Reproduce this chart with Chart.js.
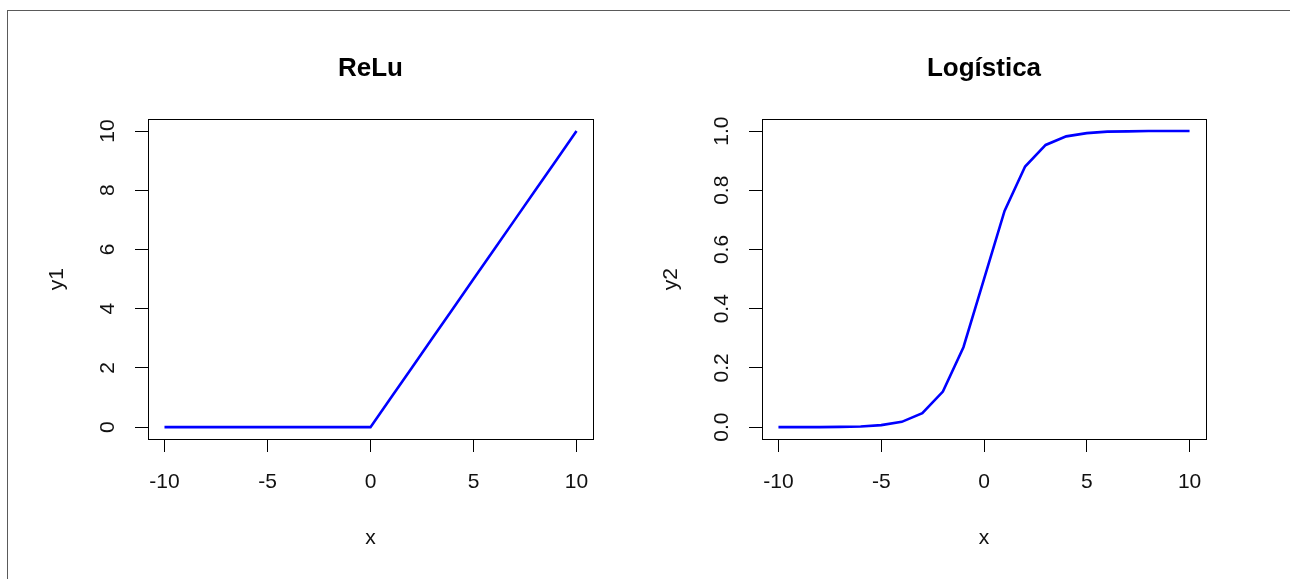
<!DOCTYPE html>
<html>
<head>
<meta charset="utf-8">
<script src="https://cdn.jsdelivr.net/npm/chart.js@4.4.1/dist/chart.umd.min.js"></script>
<style>
    html, body { margin: 0; padding: 0; background: #fff; }
    body { width: 1290px; height: 579px; position: relative; overflow: hidden; }
    .frame { position: absolute; left: 7px; top: 10px; right: 0; bottom: 0; border-top: 1px solid #5a5a5a; border-left: 1px solid #5a5a5a; }
    canvas { position: absolute; top: 0; }
    #reluChart { left: 0; }
    #logisticChart { left: 614px; }
</style>
</head>
<body>
<div class="frame"></div>
<canvas id="reluChart" width="620" height="579"></canvas>
<canvas id="logisticChart" width="676" height="579"></canvas>
<script>
// Data
const xValues = [-10, -9, -8, -7, -6, -5, -4, -3, -2, -1, 0, 1, 2, 3, 4, 5, 6, 7, 8, 9, 10];
const reluValues = [0, 0, 0, 0, 0, 0, 0, 0, 0, 0, 0, 1, 2, 3, 4, 5, 6, 7, 8, 9, 10];
const logisticValues = [0.0, 0.0, 0.0, 0.001, 0.002, 0.007, 0.018, 0.047, 0.12, 0.27, 0.5,
    0.73, 0.88, 0.953, 0.982, 0.993, 0.998, 0.999, 1.0, 1.0, 1.0];

// Tick labels
const xTicks = [-10, -5, 0, 5, 10];
const reluTicks = [0, 2, 4, 6, 8, 10];
const logisticTicks = [0, 0.2, 0.4, 0.6, 0.8, 1.0];

const FONT = "'Liberation Sans', Arial, sans-serif";

// draw the full box around the plot area (R bty="o")
const boxPlugin = {
    id: 'plotBox',
    afterDraw(chart) {
        const a = chart.chartArea;
        const ctx = chart.ctx;
        ctx.save();
        ctx.strokeStyle = '#000';
        ctx.lineWidth = 1;
        ctx.strokeRect(Math.round(a.left) + 0.5, Math.round(a.top) + 0.5,
            Math.round(a.right - a.left), Math.round(a.bottom - a.top));
        ctx.restore();
    }
};

function makeChart(canvasId, title, yLabel, yValues, yTicks, yMin, yMax, yFormat, yPad, rightPad) {
    const ctx = document.getElementById(canvasId);
    return new Chart(ctx, {
        type: 'line',
        data: {
            datasets: [{
                data: xValues.map((x, i) => ({ x: x, y: yValues[i] })),
                borderColor: '#0000ff',
                borderWidth: 2.6,
                pointRadius: 0,
                tension: 0,
                fill: false
            }]
        },
        options: {
            responsive: false,
            animation: false,
            layout: { padding: { left: 0, right: rightPad, top: 0, bottom: 0 } },
            plugins: {
                legend: { display: false },
                tooltip: { enabled: false },
                title: {
                    display: true,
                    text: title,
                    fullSize: false,
                    color: '#000',
                    font: { family: FONT, size: 26, weight: 'bold' },
                    padding: { top: 53, bottom: 35 }
                }
            },
            scales: {
                x: {
                    type: 'linear',
                    min: -10.8,
                    max: 10.8,
                    afterBuildTicks: scale => { scale.ticks = xTicks.map(v => ({ value: v })); },
                    afterFit: scale => { scale.height = 140; },
                    grid: { display: true, drawOnChartArea: false, drawTicks: true, tickLength: 13, color: '#000' },
                    border: { display: true, color: '#000' },
                    ticks: {
                        color: '#111',
                        font: { family: FONT, size: 21 },
                        padding: 18,
                        maxRotation: 0,
                        callback: v => String(v)
                    },
                    title: {
                        display: true,
                        text: 'x',
                        color: '#111',
                        font: { family: FONT, size: 21 },
                        padding: { top: 0, bottom: 28 }
                    }
                },
                y: {
                    type: 'linear',
                    min: yMin,
                    max: yMax,
                    afterBuildTicks: scale => { scale.ticks = yTicks.map(v => ({ value: v })); },
                    afterFit: scale => { scale.width = 148; },
                    grid: { display: true, drawOnChartArea: false, drawTicks: true, tickLength: 13, color: '#000' },
                    border: { display: true, color: '#000' },
                    ticks: {
                        color: '#111',
                        font: { family: FONT, size: 21 },
                        padding: yPad,
                        minRotation: 90,
                        maxRotation: 90,
                        crossAlign: 'center',
                        callback: yFormat
                    },
                    title: {
                        display: true,
                        text: yLabel,
                        color: '#111',
                        font: { family: FONT, size: 21 },
                        padding: { top: 45, bottom: 0 }
                    }
                }
            }
        },
        plugins: [boxPlugin]
    });
}

makeChart('reluChart', 'ReLu', 'y1', reluValues, reluTicks, -0.4, 10.4, v => String(v), 15, 27);
makeChart('logisticChart', 'Logística', 'y2', logisticValues, logisticTicks, -0.04, 1.04, v => v.toFixed(1), 12, 84);
</script>
</body>
</html>
